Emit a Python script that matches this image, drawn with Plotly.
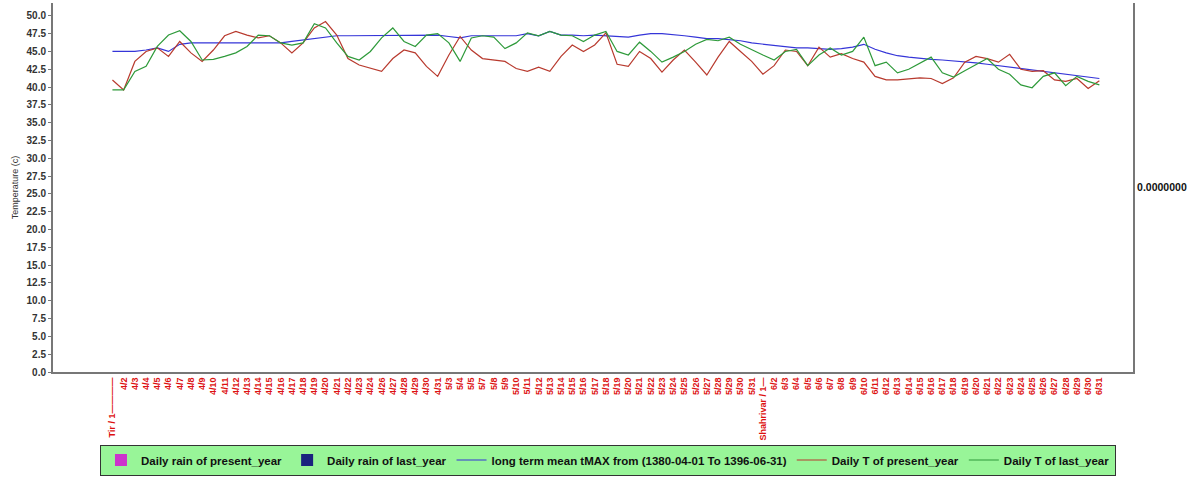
import plotly.graph_objects as go

# ---------------- data ----------------
day_labels = [
    "Tir / 1————", "4/2", "4/3", "4/4", "4/5", "4/6", "4/7", "4/8", "4/9", "4/10",
    "4/11", "4/12", "4/13", "4/14", "4/15", "4/16", "4/17", "4/18", "4/19", "4/20",
    "4/21", "4/22", "4/23", "4/24", "4/26", "4/27", "4/28", "4/29", "4/30", "4/31",
    "5/3", "5/4", "5/5", "5/7", "5/8", "5/9", "5/10", "5/11", "5/12", "5/13",
    "5/14", "5/15", "5/16", "5/17", "5/18", "5/19", "5/20", "5/21", "5/22", "5/23",
    "5/24", "5/25", "5/26", "5/27", "5/28", "5/29", "5/30", "5/31",
    "Shahrivar / 1—", "6/2", "6/3", "6/4", "6/5", "6/6", "6/7", "6/8", "6/9", "6/10",
    "6/11", "6/12", "6/13", "6/14", "6/15", "6/16", "6/17", "6/18", "6/19", "6/20",
    "6/21", "6/22", "6/23", "6/24", "6/25", "6/26", "6/27", "6/28", "6/29", "6/30",
    "6/31",
]

t_present = [
    41.0, 39.6, 43.6, 45.0, 45.5, 44.3, 46.4, 44.8, 43.6, 45.2,
    47.2, 47.8, 47.3, 46.9, 47.2, 46.2, 44.8, 46.2, 48.3, 49.2,
    47.3, 44.0, 43.1, 42.6, 42.2, 44.0, 45.2, 44.8, 42.9, 41.5,
    44.5, 47.1, 45.2, 44.0, 43.8, 43.6, 42.6, 42.2, 42.8, 42.2,
    44.3, 45.9, 45.0, 45.9, 47.6, 43.2, 42.9, 45.0, 44.0, 42.1,
    43.8, 45.2, 43.5, 41.7, 44.2, 46.4, 45.0, 43.6,
    41.8, 43.0, 45.2, 45.0, 43.0, 45.6, 44.2, 44.7, 44.0, 43.5,
    41.5, 41.0, 41.0, 41.2, 41.3, 41.2, 40.5, 41.3, 43.5, 44.3,
    44.0, 43.5, 44.6, 42.5, 42.2, 42.3, 41.0, 40.8, 41.2, 39.8,
    40.9,
]

t_last = [
    39.6, 39.6, 42.2, 42.9, 45.7, 47.3, 47.9, 46.4, 43.8, 43.9,
    44.3, 44.8, 45.7, 47.3, 47.2, 46.2, 45.9, 46.2, 48.9, 48.3,
    46.2, 44.3, 43.8, 45.0, 46.9, 48.3, 46.4, 45.7, 47.3, 47.5,
    46.2, 43.6, 46.9, 47.2, 47.0, 45.4, 46.2, 47.6, 47.2, 47.8,
    47.3, 47.2, 46.4, 47.3, 47.8, 45.0, 44.5, 46.3, 45.0, 43.5,
    44.2, 45.0, 46.0, 46.7, 46.5, 47.0, 46.0, 45.2,
    44.5, 43.8, 45.0, 45.3, 43.0, 44.5, 45.5, 44.5, 45.0, 47.0,
    43.0, 43.5, 42.0, 42.5, 43.3, 44.2, 42.0, 41.4, 42.3, 43.2,
    44.0, 42.5, 41.8, 40.3, 39.9, 41.5, 42.0, 40.2, 41.5, 40.8,
    40.3,
]

t_mean = [
    45.0, 45.0, 45.0, 45.2, 45.5, 45.0, 46.0, 46.2, 46.2, 46.2,
    46.1, 46.1, 46.2, 46.2, 46.2, 46.2, 46.4, 46.6, 46.8, 46.9,
    47.2, 47.2, 47.2, 47.2, 47.2, 47.3, 47.3, 47.3, 47.3, 47.3,
    47.1, 46.9, 47.2, 47.2, 47.1, 47.1, 47.2, 47.5, 47.2, 47.8,
    47.3, 47.3, 47.2, 47.3, 47.2, 47.0, 47.0, 47.3, 47.5, 47.5,
    47.4, 47.2, 47.0, 46.8, 46.8, 46.7, 46.5, 46.2,
    46.0, 45.8, 45.7, 45.5, 45.5, 45.4, 45.3, 45.4, 45.6, 46.0,
    45.3, 44.8, 44.4, 44.2, 44.0, 43.9, 43.8, 43.7, 43.6, 43.4,
    43.2, 43.0, 42.8, 42.6, 42.4, 42.2, 41.9, 41.7, 41.5, 41.3,
    41.2,
]

rain_present = [0.0] * len(day_labels)
rain_last = [0.0] * len(day_labels)

y_ticks = [0.0, 2.5, 5.0, 7.5, 10.0, 12.5, 15.0, 17.5, 20.0, 22.5, 25.0,
           27.5, 30.0, 32.5, 35.0, 37.5, 40.0, 42.5, 45.0, 47.5, 50.0]

# ---------------- figure ----------------
fig = go.Figure()

fig.add_trace(go.Bar(x=day_labels, y=rain_present, name="Daily rain of present_year",
                     marker=dict(color="#CC33CC", line=dict(width=0)), yaxis="y2"))
fig.add_trace(go.Bar(x=day_labels, y=rain_last, name="Daily rain of last_year",
                     marker=dict(color="#1A237E", line=dict(width=0)), yaxis="y2"))
fig.add_trace(go.Scatter(x=day_labels, y=t_mean, mode="lines",
                         name="long term mean tMAX from (1380-04-01 To 1396-06-31)",
                         line=dict(color="#3535D8", width=1.2)))
fig.add_trace(go.Scatter(x=day_labels, y=t_present, mode="lines",
                         name="Daily T of present_year",
                         line=dict(color="#B83A2E", width=1.2)))
fig.add_trace(go.Scatter(x=day_labels, y=t_last, mode="lines",
                         name="Daily T of last_year",
                         line=dict(color="#2E9A3A", width=1.2)))

fig.update_layout(
    width=1197, height=479,
    margin=dict(l=53, r=64, t=3, b=107, autoexpand=False),
    paper_bgcolor="white", plot_bgcolor="white",
    font=dict(family="Liberation Sans, Arial, sans-serif", color="#333333"),
    showlegend=True,
    legend=dict(
        orientation="h", x=0.0435, xanchor="left", y=-0.1965, yanchor="top",
        bgcolor="#98F598", bordercolor="#333333", borderwidth=1,
        font=dict(size=11.5, color="#111111", weight="bold"),
        itemwidth=30, tracegroupgap=0,
    ),
    xaxis=dict(
        type="category", range=[-5.3, 91.0], automargin=False,
        tickmode="linear", tick0=0, dtick=1,
        tickangle=-90, tickfont=dict(size=9, color="#DD1111", weight="bold"),
        showgrid=False, zeroline=False,
        showline=True, linecolor="#777777", linewidth=2,
        ticks="", fixedrange=True,
    ),
    yaxis=dict(
        range=[0, 51.8], automargin=False,
        tickmode="array", tickvals=y_ticks,
        ticktext=[f"{v:.1f}" for v in y_ticks],
        tickfont=dict(size=10, color="#333333", weight="bold"),
        ticks="outside", ticklen=3, tickcolor="#777777",
        showgrid=False, zeroline=False,
        showline=True, linecolor="#777777", linewidth=2,
        title=dict(text="Temperature (c)", font=dict(size=9, color="#333333"), standoff=6),
    ),
    yaxis2=dict(
        overlaying="y", side="right", range=[-1, 1], automargin=False,
        tickmode="array", tickvals=[0], ticktext=["0.0000000"],
        tickfont=dict(size=10.5, color="#111111", weight="bold"),
        ticks="", showgrid=False, zeroline=False,
        showline=True, linecolor="#777777", linewidth=2,
    ),
    barmode="group",
)

fig.write_html(
    "out.html",
    config={"displayModeBar": False},
    post_script="document.body.style.margin='0';document.body.style.overflow='hidden';",
)
